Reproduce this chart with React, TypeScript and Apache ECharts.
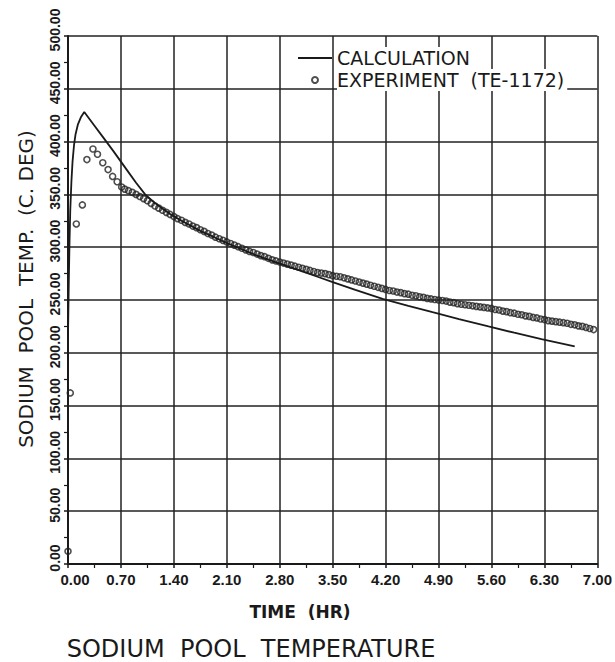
import React, { useEffect, useRef } from "react";
import * as echarts from "echarts";

// ---- data ----
const calcTime = [
  0, 0.01, 0.02, 0.03, 0.045, 0.06, 0.08, 0.1, 0.13, 0.17, 0.215, 0.34, 0.47,
  0.6, 0.78, 0.9, 1.02, 1.12, 1.22, 1.35, 1.5, 1.75, 2.1, 2.5, 2.8, 3.06, 3.3,
  3.5, 3.8, 4.16, 4.5, 4.82, 5.17, 5.56, 5.9, 6.26, 6.7,
];
const calcTemp = [
  215, 265, 305, 335, 362, 381, 397, 407, 416, 423, 428, 416, 403.5, 391, 373,
  361, 350, 343.5, 338, 331.5, 325, 315.5, 304, 292, 284.5, 278, 272,
  267, 259.5, 251, 244.5, 238.5, 232, 225, 219, 213, 206,
];

const expTime = [
  0.0, 0.03, 0.11, 0.19, 0.25, 0.33, 0.39, 0.46, 0.53, 0.59, 0.65,
  0.71, 0.75, 0.8, 0.85, 0.9, 0.95, 1.0, 1.05, 1.1, 1.15, 1.2, 1.25, 1.3, 1.35,
  1.4, 1.45, 1.5, 1.55, 1.6, 1.65, 1.7, 1.75, 1.8, 1.85, 1.9, 1.95, 2.0, 2.05,
  2.1, 2.15, 2.2, 2.25, 2.3, 2.35, 2.4, 2.45, 2.5, 2.55, 2.6, 2.65, 2.7, 2.75,
  2.8, 2.85, 2.9, 2.95, 3.0, 3.05, 3.1, 3.15, 3.2, 3.25, 3.3, 3.35, 3.4, 3.45,
  3.5, 3.55, 3.6, 3.65, 3.7, 3.75, 3.8, 3.85, 3.9, 3.95, 4.0, 4.05, 4.1, 4.15,
  4.2, 4.25, 4.3, 4.35, 4.4, 4.45, 4.5, 4.55, 4.6, 4.65, 4.7, 4.75, 4.8, 4.85,
  4.9, 4.95, 5.0, 5.05, 5.1, 5.15, 5.2, 5.25, 5.3, 5.35, 5.4, 5.45, 5.5, 5.55,
  5.6, 5.65, 5.7, 5.75, 5.8, 5.85, 5.9, 5.95, 6.0, 6.05, 6.1, 6.15, 6.2, 6.25,
  6.3, 6.35, 6.4, 6.45, 6.5, 6.55, 6.6, 6.65, 6.7, 6.75, 6.8, 6.85, 6.9, 6.95,
];
const expTemp = [
  12, 162, 322, 340, 383, 393, 388, 380, 373.5, 367, 362,
  357, 355, 353.5, 352, 350, 348, 346, 344, 341.5, 339, 337, 335, 333, 331,
  329, 327, 325.5, 323.5, 322, 320, 318.5, 316.5, 315, 313, 311.5, 309.5, 308, 306.5,
  305, 303.5, 302, 300.5, 299, 297.5, 296, 295, 293.5, 292, 291, 289.5, 288, 287,
  286, 285, 284, 283, 282, 281, 280, 279, 278, 277, 276, 275.5, 275, 274,
  273, 272.5, 272, 271, 270, 269, 268, 267, 266, 265, 264, 263, 262, 261,
  260, 259, 258.5, 257.5, 257, 256, 255.5, 254.5, 254, 253, 252.5, 251.5, 251, 250.5,
  250, 249.5, 249, 248, 247.5, 246.5, 246, 245.5, 245, 244.5, 244, 243.5, 243, 242.5,
  242, 241, 240.5, 239.5, 239, 238, 237.5, 236.5, 236, 235, 234.5, 233.5, 233, 232,
  231.5, 230.5, 230, 229.5, 229, 228.5, 228, 227, 226.5, 225.5, 225, 224, 223, 222,
];

const seriesNames = ["CALCULATION", "EXPERIMENT  (TE-1172)"];
const chartTitle = "SODIUM  POOL  TEMPERATURE";
const xAxisTitle = "TIME  (HR)";
const yAxisTitle = "SODIUM  POOL  TEMP.  (C. DEG)";

const INK = "#1a1a1a";

export default function App() {
  const ref = useRef<HTMLDivElement>(null);

  useEffect(() => {
    if (!ref.current) return;
    const chart = echarts.init(ref.current, undefined, { renderer: "svg" });

    const calcData = calcTime.map((t, i) => [t, calcTemp[i]]);
    const expData = expTime.map((t, i) => [t, expTemp[i]]);

    chart.setOption({
      animation: false,
      backgroundColor: "#ffffff",
      grid: { left: 68, right: 16, top: 36, bottom: 98 },
      legend: {
        orient: "vertical",
        left: 298,
        top: 47,
        padding: 0,
        itemWidth: 34,
        itemHeight: 6,
        itemGap: 0,
        selectedMode: false,
        textStyle: {
          fontFamily: "DejaVu Sans",
          fontSize: 19,
          color: INK,
          lineHeight: 20,
          backgroundColor: "#ffffff",
          padding: [1, 3, 1, 0],
        },
        data: [
          { name: seriesNames[0], icon: "path://M0,0L34,0L34,1.8L0,1.8Z" },
          { name: seriesNames[1] },
        ],
      },
      xAxis: {
        type: "value",
        min: 0,
        max: 7,
        interval: 0.7,
        axisLine: { show: true, lineStyle: { color: INK, width: 2 } },
        axisTick: { show: true, length: 4, lineStyle: { color: INK, width: 1.5 } },
        minorTick: { show: true, splitNumber: 2, length: 4, lineStyle: { color: INK, width: 1.2 } },
        splitLine: { show: true, lineStyle: { color: "#222", width: 1.5 } },
        axisLabel: {
          formatter: (v: number) => (v === 0 ? "{first|0.00}" : v.toFixed(2)),
          fontFamily: "Liberation Sans",
          fontWeight: "bold",
          fontSize: 15,
          color: INK,
          margin: 8,
          rich: {
            first: {
              fontFamily: "Liberation Sans",
              fontWeight: "bold",
              fontSize: 15,
              color: INK,
              padding: [0, 0, 0, 14],
            },
          },
        },
      },
      yAxis: {
        type: "value",
        min: 0,
        max: 500,
        interval: 50,
        axisLine: { show: true, lineStyle: { color: INK, width: 2 } },
        axisTick: { show: true, length: 4, lineStyle: { color: INK, width: 1.5 } },
        minorTick: { show: true, splitNumber: 2, length: 4, lineStyle: { color: INK, width: 1.2 } },
        splitLine: { show: true, lineStyle: { color: "#222", width: 1.5 } },
        axisLabel: {
          rotate: 90,
          formatter: (v: number) => v.toFixed(2),
          fontFamily: "Liberation Sans",
          fontWeight: "bold",
          fontSize: 14,
          color: INK,
          margin: 6,
          padding: [0, 0, 0, 12],
        },
      },
      series: [
        {
          name: seriesNames[0],
          type: "line",
          data: calcData,
          symbol: "none",
          smooth: false,
          lineStyle: { color: INK, width: 1.8 },
          itemStyle: { color: INK },
          z: 3,
        },
        {
          name: seriesNames[1],
          type: "scatter",
          data: expData,
          symbol: "circle",
          symbolSize: 6,
          itemStyle: { color: "rgba(0,0,0,0)", borderColor: "#222", borderWidth: 1.6 },
          z: 2,
        },
      ],
      graphic: [
        {
          type: "text",
          x: 26,
          y: 289,
          rotation: Math.PI / 2,
          style: {
            text: yAxisTitle,
            x: 0,
            y: 0,
            align: "center",
            verticalAlign: "middle",
            fontFamily: "DejaVu Sans",
            fontSize: 20,
            fill: INK,
          },
        },
        {
          type: "text",
          x: 300,
          y: 612,
          style: {
            text: xAxisTitle,
            align: "center",
            verticalAlign: "middle",
            fontFamily: "DejaVu Sans",
            fontWeight: "bold",
            fontSize: 17,
            fill: INK,
          },
        },
        {
          type: "text",
          x: 251,
          y: 649,
          style: {
            text: chartTitle,
            align: "center",
            verticalAlign: "middle",
            fontFamily: "DejaVu Sans",
            fontSize: 24,
            fill: INK,
          },
        },
      ],
    });

    return () => chart.dispose();
  }, []);

  return (
    <div
      ref={ref}
      style={{ position: "fixed", left: 0, top: 0, width: 615, height: 662 }}
    />
  );
}
